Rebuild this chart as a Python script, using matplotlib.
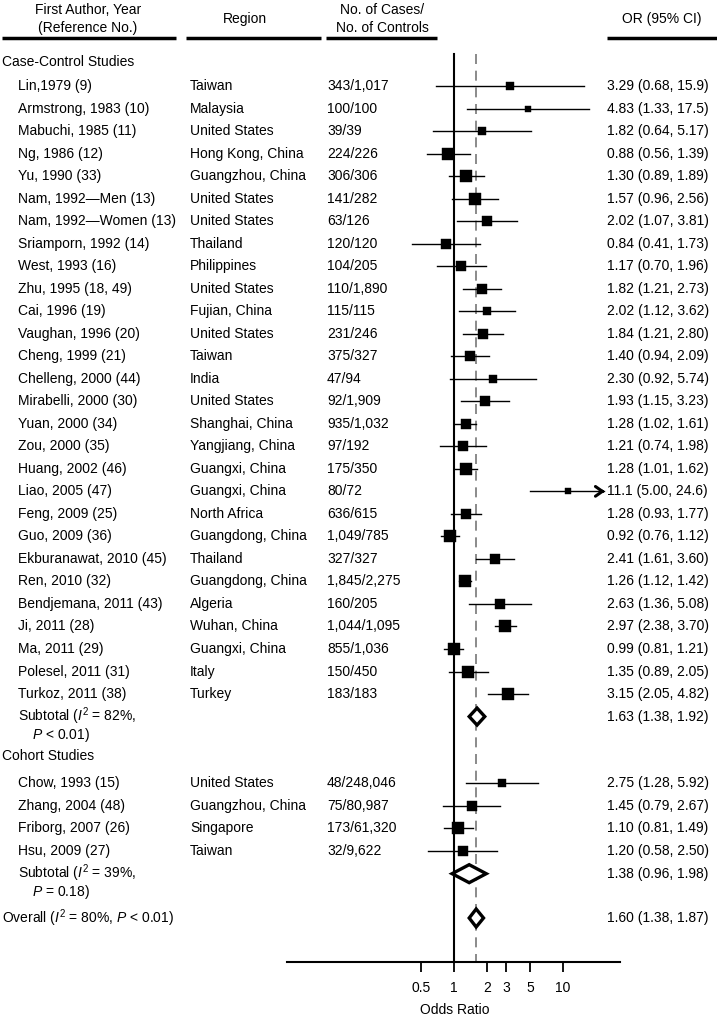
import matplotlib
matplotlib.use("Agg")
import matplotlib.pyplot as plt
import numpy as np

plt.rcParams['font.family'] = ['Liberation Sans', 'DejaVu Sans']
plt.rcParams['mathtext.fontset'] = 'custom'
plt.rcParams['mathtext.rm'] = 'Liberation Sans'
plt.rcParams['mathtext.it'] = 'Liberation Sans:italic'

# ---------------- data ----------------
case_authors = ["Lin,1979 (9)", "Armstrong, 1983 (10)", "Mabuchi, 1985 (11)", "Ng, 1986 (12)",
                "Yu, 1990 (33)", "Nam, 1992\u2014Men (13)", "Nam, 1992\u2014Women (13)",
                "Sriamporn, 1992 (14)", "West, 1993 (16)", "Zhu, 1995 (18, 49)", "Cai, 1996 (19)",
                "Vaughan, 1996 (20)", "Cheng, 1999 (21)", "Chelleng, 2000 (44)", "Mirabelli, 2000 (30)",
                "Yuan, 2000 (34)", "Zou, 2000 (35)", "Huang, 2002 (46)", "Liao, 2005 (47)",
                "Feng, 2009 (25)", "Guo, 2009 (36)", "Ekburanawat, 2010 (45)", "Ren, 2010 (32)",
                "Bendjemana, 2011 (43)", "Ji, 2011 (28)", "Ma, 2011 (29)", "Polesel, 2011 (31)",
                "Turkoz, 2011 (38)"]
case_regions = ["Taiwan", "Malaysia", "United States", "Hong Kong, China", "Guangzhou, China",
                "United States", "United States", "Thailand", "Philippines", "United States",
                "Fujian, China", "United States", "Taiwan", "India", "United States",
                "Shanghai, China", "Yangjiang, China", "Guangxi, China", "Guangxi, China",
                "North Africa", "Guangdong, China", "Thailand", "Guangdong, China", "Algeria",
                "Wuhan, China", "Guangxi, China", "Italy", "Turkey"]
case_counts = ["343/1,017", "100/100", "39/39", "224/226", "306/306", "141/282", "63/126",
               "120/120", "104/205", "110/1,890", "115/115", "231/246", "375/327", "47/94",
               "92/1,909", "935/1,032", "97/192", "175/350", "80/72", "636/615", "1,049/785",
               "327/327", "1,845/2,275", "160/205", "1,044/1,095", "855/1,036", "150/450", "183/183"]
case_or = [3.29, 4.83, 1.82, 0.88, 1.30, 1.57, 2.02, 0.84, 1.17, 1.82, 2.02, 1.84, 1.40, 2.30,
           1.93, 1.28, 1.21, 1.28, 11.1, 1.28, 0.92, 2.41, 1.26, 2.63, 2.97, 0.99, 1.35, 3.15]
case_lo = [0.68, 1.33, 0.64, 0.56, 0.89, 0.96, 1.07, 0.41, 0.70, 1.21, 1.12, 1.21, 0.94, 0.92,
           1.15, 1.02, 0.74, 1.01, 5.00, 0.93, 0.76, 1.61, 1.12, 1.36, 2.38, 0.81, 0.89, 2.05]
case_hi = [15.9, 17.5, 5.17, 1.39, 1.89, 2.56, 3.81, 1.73, 1.96, 2.73, 3.62, 2.80, 2.09, 5.74,
           3.23, 1.61, 1.98, 1.62, 24.6, 1.77, 1.12, 3.60, 1.42, 5.08, 3.70, 1.21, 2.05, 4.82]
case_weight = [8, 7, 8, 13, 12, 11.5, 11, 10, 11, 11, 9, 11, 11, 8, 10, 11, 11, 12, 7, 11, 12, 11,
               13, 10, 13, 13, 12, 12]

cohort_authors = ["Chow, 1993 (15)", "Zhang, 2004 (48)", "Friborg, 2007 (26)", "Hsu, 2009 (27)"]
cohort_regions = ["United States", "Guangzhou, China", "Singapore", "Taiwan"]
cohort_counts = ["48/248,046", "75/80,987", "173/61,320", "32/9,622"]
cohort_or = [2.75, 1.45, 1.10, 1.20]
cohort_lo = [1.28, 0.79, 0.81, 0.58]
cohort_hi = [5.92, 2.67, 1.49, 2.50]
cohort_weight = [9, 11, 12, 10]

sub_case = (1.63, 1.38, 1.92)
sub_cohort = (1.38, 0.96, 1.98)
overall = (1.60, 1.38, 1.87)
sub_case_label = ("82%", "P < 0.01")
sub_cohort_label = ("39%", "P = 0.18")
overall_label = ("80%", "P < 0.01")

xticks = [0.5, 1, 2, 3, 5, 10]
xtick_labels = ["0.5", "1", "2", "3", "5", "10"]

# ---------------- layout ----------------
W, H = 717, 1022
fig = plt.figure(figsize=(W / 100, H / 100), dpi=100)
tax = fig.add_axes([0, 0, 1, 1])
tax.set_xlim(0, W)
tax.set_ylim(H, 0)
tax.axis('off')

axis_y = 962
fx0, fx1 = 287, 620
fax = fig.add_axes([fx0 / W, (H - axis_y) / H, (fx1 - fx0) / W, axis_y / H])
fax.patch.set_alpha(0)
fax.set_xscale('log')
xl0 = 10 ** ((fx0 - 454) / 108.6)
xl1 = 10 ** ((fx1 - 454) / 108.6)
fax.set_xlim(xl0, xl1)
fax.set_ylim(axis_y, 0)
for s in ['top', 'left', 'right']:
    fax.spines[s].set_visible(False)
fax.spines['bottom'].set_linewidth(1.5)
fax.set_yticks([])
fax.set_xticks(xticks)
fax.set_xticklabels(xtick_labels)
fax.xaxis.set_minor_locator(matplotlib.ticker.NullLocator())
fax.tick_params(axis='x', length=7, width=1.3, pad=7, labelsize=10, direction='out')

FS = 10

# header
hy1, hy2, uy = 10, 28, 38
tax.text(88, hy1, "First Author, Year", ha='center', va='center', fontsize=FS)
tax.text(88, hy2, "(Reference No.)", ha='center', va='center', fontsize=FS)
tax.text(245, (hy1 + hy2) / 2, "Region", ha='center', va='center', fontsize=FS)
tax.text(382, hy1, "No. of Cases/", ha='center', va='center', fontsize=FS)
tax.text(382, hy2, "No. of Controls", ha='center', va='center', fontsize=FS)
tax.text(662, (hy1 + hy2) / 2, "OR (95% CI)", ha='center', va='center', fontsize=FS)
for a, b in [(2, 176), (186, 321), (326, 437), (607, 717)]:
    tax.plot([a, b], [uy, uy], color='black', lw=2.5, solid_capstyle='butt')

# reference lines
fax.plot([1, 1], [54, axis_y], color='black', lw=1.5)
fax.plot([overall[0], overall[0]], [54, axis_y], color='#777777', lw=1.2,
         dashes=(6, 4))

def fmt(v):
    return f"{v:.1f}" if v >= 10 else f"{v:.2f}"

def draw_study(y, name, region, count, o, l, h, w):
    tax.text(18, y, name, va='center', fontsize=FS)
    tax.text(190, y, region, va='center', fontsize=FS)
    tax.text(327, y, count, va='center', fontsize=FS)
    tax.text(607, y, f"{fmt(o)} ({fmt(l)}, {fmt(h)})", va='center', fontsize=FS)
    if h > 20:
        fax.plot([l, h * 0.97], [y, y], color='black', lw=1.0)
        fax.annotate('', xy=(h, y), xytext=(h * 0.9, y),
                     arrowprops=dict(arrowstyle='->,head_length=0.5,head_width=0.35',
                                     lw=2.2, color='black', shrinkA=0, shrinkB=0))
    else:
        fax.plot([l, h], [y, y], color='black', lw=1.0)
    fax.plot([o], [y], marker='s', ms=w / 1.389, color='black', mec='black', mew=0.3)

def draw_diamond(y, o, l, h, half=8.5):
    xs = [l, o, h, o, l]
    ys = [y, y - half, y, y + half, y]
    fax.fill(xs, ys, facecolor='white', edgecolor='black', lw=2.4, joinstyle='miter', zorder=3)
    tax.text(607, y, f"{fmt(o)} ({fmt(l)}, {fmt(h)})", va='center', fontsize=FS)

# case-control
tax.text(2, 62, "Case-Control Studies", va='center', fontsize=FS)
y0, dy = 86, 22.52
for i in range(len(case_authors)):
    draw_study(y0 + i * dy, case_authors[i], case_regions[i], case_counts[i],
               case_or[i], case_lo[i], case_hi[i], case_weight[i])
ys = y0 + len(case_authors) * dy
tax.text(18, ys, r"Subtotal ($\mathit{I}^2$ = " + sub_case_label[0] + ",", va='center', fontsize=FS)
p1, p2 = sub_case_label[1].split(" ", 1)
tax.text(32, ys + 18, r"$\mathit{" + p1 + "}$ " + p2 + ")", va='center', fontsize=FS)
draw_diamond(ys, *sub_case)

# cohort
tax.text(2, 756, "Cohort Studies", va='center', fontsize=FS)
y0c, dyc = 783, 22.67
for i in range(len(cohort_authors)):
    draw_study(y0c + i * dyc, cohort_authors[i], cohort_regions[i], cohort_counts[i],
               cohort_or[i], cohort_lo[i], cohort_hi[i], cohort_weight[i])
ysc = y0c + len(cohort_authors) * dyc
tax.text(18, ysc, r"Subtotal ($\mathit{I}^2$ = " + sub_cohort_label[0] + ",", va='center', fontsize=FS)
p1, p2 = sub_cohort_label[1].split(" ", 1)
tax.text(32, ysc + 18, r"$\mathit{" + p1 + "}$ " + p2 + ")", va='center', fontsize=FS)
draw_diamond(ysc, *sub_cohort, half=9)

# overall
p1, p2 = overall_label[1].split(" ", 1)
tax.text(2, 918, r"Overall ($\mathit{I}^2$ = " + overall_label[0] + r", $\mathit{" + p1 + "}$ " + p2 + ")",
         va='center', fontsize=FS)
draw_diamond(918, *overall, half=9)

tax.text(455, 1010, "Odds Ratio", ha='center', va='center', fontsize=FS)

fig.savefig("out.png", dpi=100)
